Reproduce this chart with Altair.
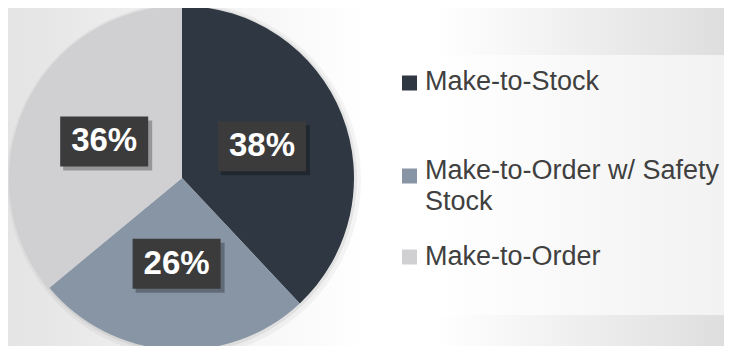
import altair as alt
import pandas as pd

categories = ["Make-to-Stock", "Make-to-Order w/ Safety Stock", "Make-to-Order"]
legend_labels = ["Make-to-Stock", "Make-to-Order w/ Safety\nStock", "Make-to-Order"]
shares = [38, 26, 36]
slice_order = [0, 1, 2]
colors = ["#2f3742", "#8795a5", "#d0d0d3"]

df = pd.DataFrame({
    "category": categories,
    "legend": legend_labels,
    "share": shares,
    "order": slice_order,
})

W, H = 716, 338
CX, CY, R = 174, 170, 172
LR = 86

base = alt.Chart(df)

color_enc = alt.Color("category:N", scale=alt.Scale(domain=categories, range=colors), legend=None)

bg = alt.Chart(pd.DataFrame({"k": [0]})).mark_rect(
    color=alt.LinearGradient(
        gradient="linear", x1=0, x2=1, y1=0, y2=0,
        stops=[
            alt.GradientStop(color="#e4e4e4", offset=0),
            alt.GradientStop(color="#ffffff", offset=0.5),
            alt.GradientStop(color="#ffffff", offset=0.6),
            alt.GradientStop(color="#dedede", offset=1),
        ],
    )
).encode(x=alt.value(0), x2=alt.value(W), y=alt.value(0), y2=alt.value(H))

legend_box = alt.Chart(pd.DataFrame({"k": [0]})).mark_rect(color="white", opacity=0.6).encode(
    x=alt.value(385), x2=alt.value(W), y=alt.value(47), y2=alt.value(307)
)

shadow1 = base.mark_arc(outerRadius=R + 5, color="black", opacity=0.04).encode(
    theta=alt.Theta("share:Q", stack=True), order=alt.Order("order:Q"),
    x=alt.value(CX + 2), y=alt.value(CY + 2),
)
shadow2 = base.mark_arc(outerRadius=R + 2, color="black", opacity=0.06).encode(
    theta=alt.Theta("share:Q", stack=True), order=alt.Order("order:Q"),
    x=alt.value(CX + 1), y=alt.value(CY + 1),
)

pie = base.mark_arc(outerRadius=R).encode(
    theta=alt.Theta("share:Q", stack=True),
    color=color_enc,
    order=alt.Order("order:Q"),
    x=alt.value(CX), y=alt.value(CY),
)

lab = base.transform_joinaggregate(total="sum(share)").transform_window(
    cum="sum(share)", sort=[alt.SortField("order")], frame=[None, 0]
).transform_calculate(
    mid="(datum.cum - datum.share / 2) / datum.total * 2 * PI",
    lx=f"{CX} + {LR} * sin(datum.mid)",
    ly=f"{CY} - {LR} * cos(datum.mid)",
    bx1="datum.lx - 44", bx2="datum.lx + 44",
    by1="datum.ly - 25", by2="datum.ly + 25",
    sx1="datum.lx - 41", sx2="datum.lx + 48",
    sy1="datum.ly - 21", sy2="datum.ly + 29",
    pct="datum.share + '%'",
)

box_shadow = lab.mark_rect(color="black", opacity=0.28).encode(
    x=alt.X("sx1:Q", scale=None, axis=None), x2="sx2:Q",
    y=alt.Y("sy1:Q", scale=None, axis=None), y2="sy2:Q",
)
box = lab.mark_rect(color="#3b3b3b").encode(
    x=alt.X("bx1:Q", scale=None, axis=None), x2="bx2:Q",
    y=alt.Y("by1:Q", scale=None, axis=None), y2="by2:Q",
)
pct_text = lab.mark_text(
    font="Liberation Sans", fontWeight="bold", fontSize=33, color="white",
    align="center", baseline="middle",
).encode(
    x=alt.X("lx:Q", scale=None, axis=None),
    y=alt.Y("ly:Q", scale=None, axis=None),
    text="pct:N",
)

leg_marks = base.mark_square(size=225, opacity=1).encode(
    x=alt.value(401.5),
    y=alt.Y("order:Q", scale=alt.Scale(domain=[0, 1, 2], range=[75, 168, 249]), axis=None),
    color=color_enc,
)
leg_text = base.mark_text(
    font="Liberation Sans", fontSize=27, color="#404040", align="left",
    baseline="middle", lineBreak="\n", lineHeight=31,
).encode(
    x=alt.value(417),
    y=alt.Y("order:Q", scale=alt.Scale(domain=[0, 1, 2], range=[74, 163, 249]), axis=None),
    text="legend:N",
)

chart = alt.layer(
    bg, legend_box, shadow1, shadow2, pie, box_shadow, box, pct_text, leg_marks, leg_text
).resolve_scale(x="independent", y="independent").properties(
    width=W, height=H, padding=0, autosize="none"
).configure_view(stroke=None)

chart.save("out.html", embed_options={"renderer": "svg", "actions": False})
